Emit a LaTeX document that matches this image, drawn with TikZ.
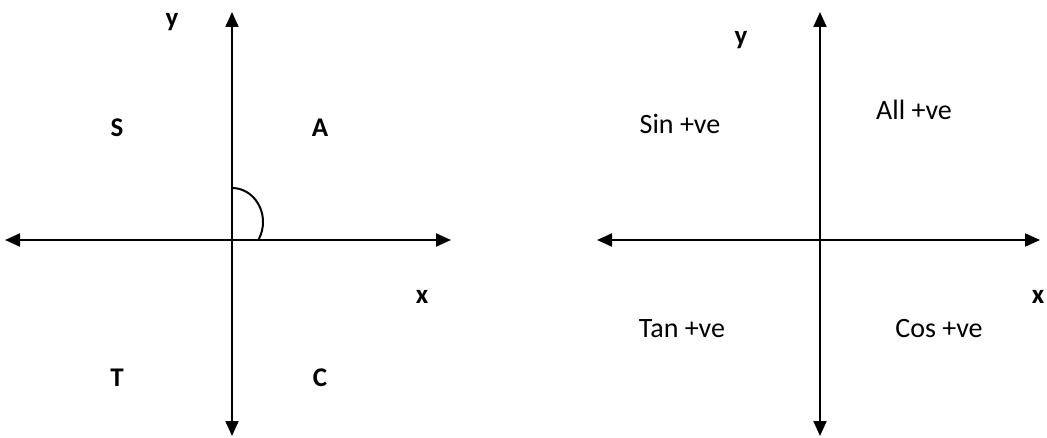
\documentclass[tikz,border=0pt]{standalone}
\usepackage{fontspec}
\setmainfont{Carlito}
\usetikzlibrary{arrows.meta, positioning}

\begin{document}
\begin{tikzpicture}[
    x=0.5pt, y=-0.5pt,
    axis/.style={{Triangle[length=7.5pt,width=6.5pt]}-{Triangle[length=7.5pt,width=6.5pt]}, line width=1pt},
    lbl/.style={font=\fontsize{13.5}{16}\selectfont\bfseries, inner sep=0pt},
    sgn/.style={font=\fontsize{14}{17}\selectfont, inner sep=0pt}
  ]
  \useasboundingbox (0,0) rectangle (1047,438);

  % left quadrant picture
  \coordinate (ltop) at (232,12);
  \coordinate (lbot) at (232,436);
  \coordinate (lleft) at (5,240);
  \coordinate (lright) at (451,240);
  \draw[axis] (ltop) -- (lbot);
  \draw[axis] (lleft) -- (lright);
  \coordinate (arcstart) at (232,188);
  \draw[line width=1pt] (arcstart) arc[start angle=-90, end angle=30, x radius=31, y radius=34];

  \node[lbl] (ly) at (172,22) {y};
  \node[lbl] (qs) at (117,128) {S};
  \node[lbl] (qa) at (320,128) {A};
  \node[lbl] (lx) at (422,297) {x};
  \node[lbl] (qt) at (117,378) {T};
  \node[lbl] (qc) at (320,378) {C};

  % right quadrant picture
  \coordinate (rtop) at (820,12);
  \coordinate (rbot) at (820,436);
  \coordinate (rleft) at (597,240);
  \coordinate (rright) at (1040,240);
  \draw[axis] (rtop) -- (rbot);
  \draw[axis] (rleft) -- (rright);

  \node[lbl] (ry) at (741,40) {y};
  \node[sgn] (sin) at (680,124) {Sin +ve};
  \node[sgn] (all) at (914,110) {All +ve};
  \node[lbl] (rx) at (1038,297) {x};
  \node[sgn] (tan) at (682,329) {Tan +ve};
  \node[sgn] (cos) at (939,329) {Cos +ve};
\end{tikzpicture}
\end{document}
